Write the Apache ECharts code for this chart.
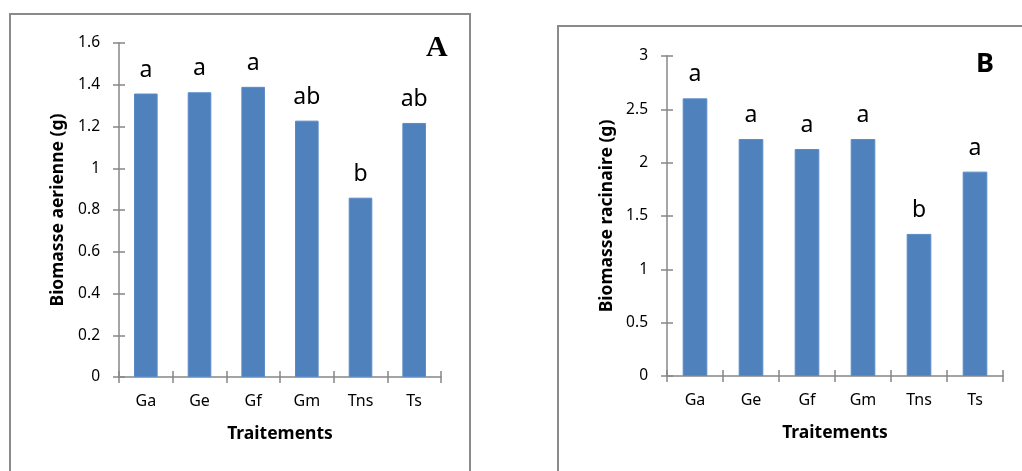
<!DOCTYPE html>
<html>
<head>
<meta charset="utf-8">
<script src="https://cdn.jsdelivr.net/npm/echarts@6/dist/echarts.min.js"></script>
<style>
html,body{margin:0;padding:0;background:#fff;}
#chart{width:1022px;height:471px;}
</style>
</head>
<body>
<div id="chart"></div>
<script>
var categories = ['Ga', 'Ge', 'Gf', 'Gm', 'Tns', 'Ts'];
var valuesA = [1.358, 1.364, 1.39, 1.228, 0.859, 1.217];
var lettersA = ['a', 'a', 'a', 'ab', 'b', 'ab'];
var valuesB = [2.603, 2.222, 2.128, 2.222, 1.332, 1.916];
var lettersB = ['a', 'a', 'a', 'a', 'b', 'a'];
var ticksA = { min: 0, max: 1.6, interval: 0.2 };
var ticksB = { min: 0, max: 3, interval: 0.5 };

var FONT = 'Noto Sans';
var axisColor = '#878787';
var barColor = '#4f81bd';

function yAxes(grid, t, name, gap) {
  return [{
    type: 'value', gridIndex: grid, position: 'left', min: t.min, max: t.max, interval: t.interval,
    name: name, nameLocation: 'middle', nameGap: gap,
    nameTextStyle: { fontFamily: FONT, fontWeight: 'bold', fontSize: 17.5, color: '#000' },
    axisLine: { show: true, lineStyle: { color: axisColor, width: 1.5 } },
    axisTick: { show: true, inside: false, length: 6, lineStyle: { color: axisColor, width: 1.5 } },
    axisLabel: { margin: 19, fontFamily: FONT, fontSize: 15.5, color: '#000',
      formatter: function (v) { return String(Math.round(v * 10) / 10); } },
    splitLine: { show: false }
  }, {
    type: 'value', gridIndex: grid, position: 'left', offset: 0, min: t.min, max: t.max, interval: t.interval,
    axisLine: { show: false },
    axisTick: { show: true, inside: true, length: 6, lineStyle: { color: axisColor, width: 1.5 } },
    axisLabel: { show: false }, splitLine: { show: false }
  }];
}
function xAxes(grid) {
  return [{
    type: 'category', gridIndex: grid, position: 'bottom', data: categories,
    name: 'Traitements', nameLocation: 'middle', nameGap: 48,
    nameTextStyle: { fontFamily: FONT, fontWeight: 'bold', fontSize: 17.5, color: '#000' },
    axisLine: { show: true, lineStyle: { color: axisColor, width: 1.5 } },
    axisTick: { show: true, inside: false, length: 6, lineStyle: { color: axisColor, width: 1.5 } },
    axisLabel: { margin: 16, fontFamily: FONT, fontSize: 16, color: '#000' }
  }, {
    type: 'category', gridIndex: grid, position: 'bottom', offset: 0, data: categories,
    axisLine: { show: false },
    axisTick: { show: true, inside: true, length: 6, lineStyle: { color: axisColor, width: 1.5 } },
    axisLabel: { show: false }
  }];
}
function barSeries(xi, yi, vals, letters) {
  return {
    type: 'bar', xAxisIndex: xi, yAxisIndex: yi, data: vals, barWidth: '44%',
    itemStyle: { color: barColor, borderColor: '#5a8bc6', borderWidth: 1 },
    label: { show: true, position: 'top', distance: 12, fontFamily: FONT, fontSize: 23, color: '#000',
      formatter: function (p) { return letters[p.dataIndex]; } },
    silent: true
  };
}

var chart = echarts.init(document.getElementById('chart'), null, { renderer: 'canvas' });
chart.setOption({
  animation: false,
  backgroundColor: '#fff',
  grid: [
    { left: 119, top: 43, width: 322, height: 334 },
    { left: 667, top: 56, width: 336, height: 320 }
  ],
  xAxis: xAxes(0).concat(xAxes(1)),
  yAxis: yAxes(0, ticksA, 'Biomasse aerienne (g)', 52).concat(yAxes(1, ticksB, 'Biomasse racinaire (g)', 51)),
  series: [barSeries(0, 0, valuesA, lettersA), barSeries(2, 2, valuesB, lettersB)],
  graphic: [
    { type: 'rect', shape: { x: 10, y: 14, width: 460, height: 480 }, style: { fill: null, stroke: '#8a8a8a', lineWidth: 2 }, z: -1 },
    { type: 'rect', shape: { x: 558, y: 26, width: 480, height: 480 }, style: { fill: null, stroke: '#8a8a8a', lineWidth: 2 }, z: -1 },
    { type: 'text', left: 426, top: 33, style: { text: 'A', font: 'bold 30px "Liberation Serif"', fill: '#000' } },
    { type: 'text', left: 976, top: 51, style: { text: 'B', font: 'bold 27px "Noto Sans"', fill: '#000' } }
  ]
});
</script>
</body>
</html>
